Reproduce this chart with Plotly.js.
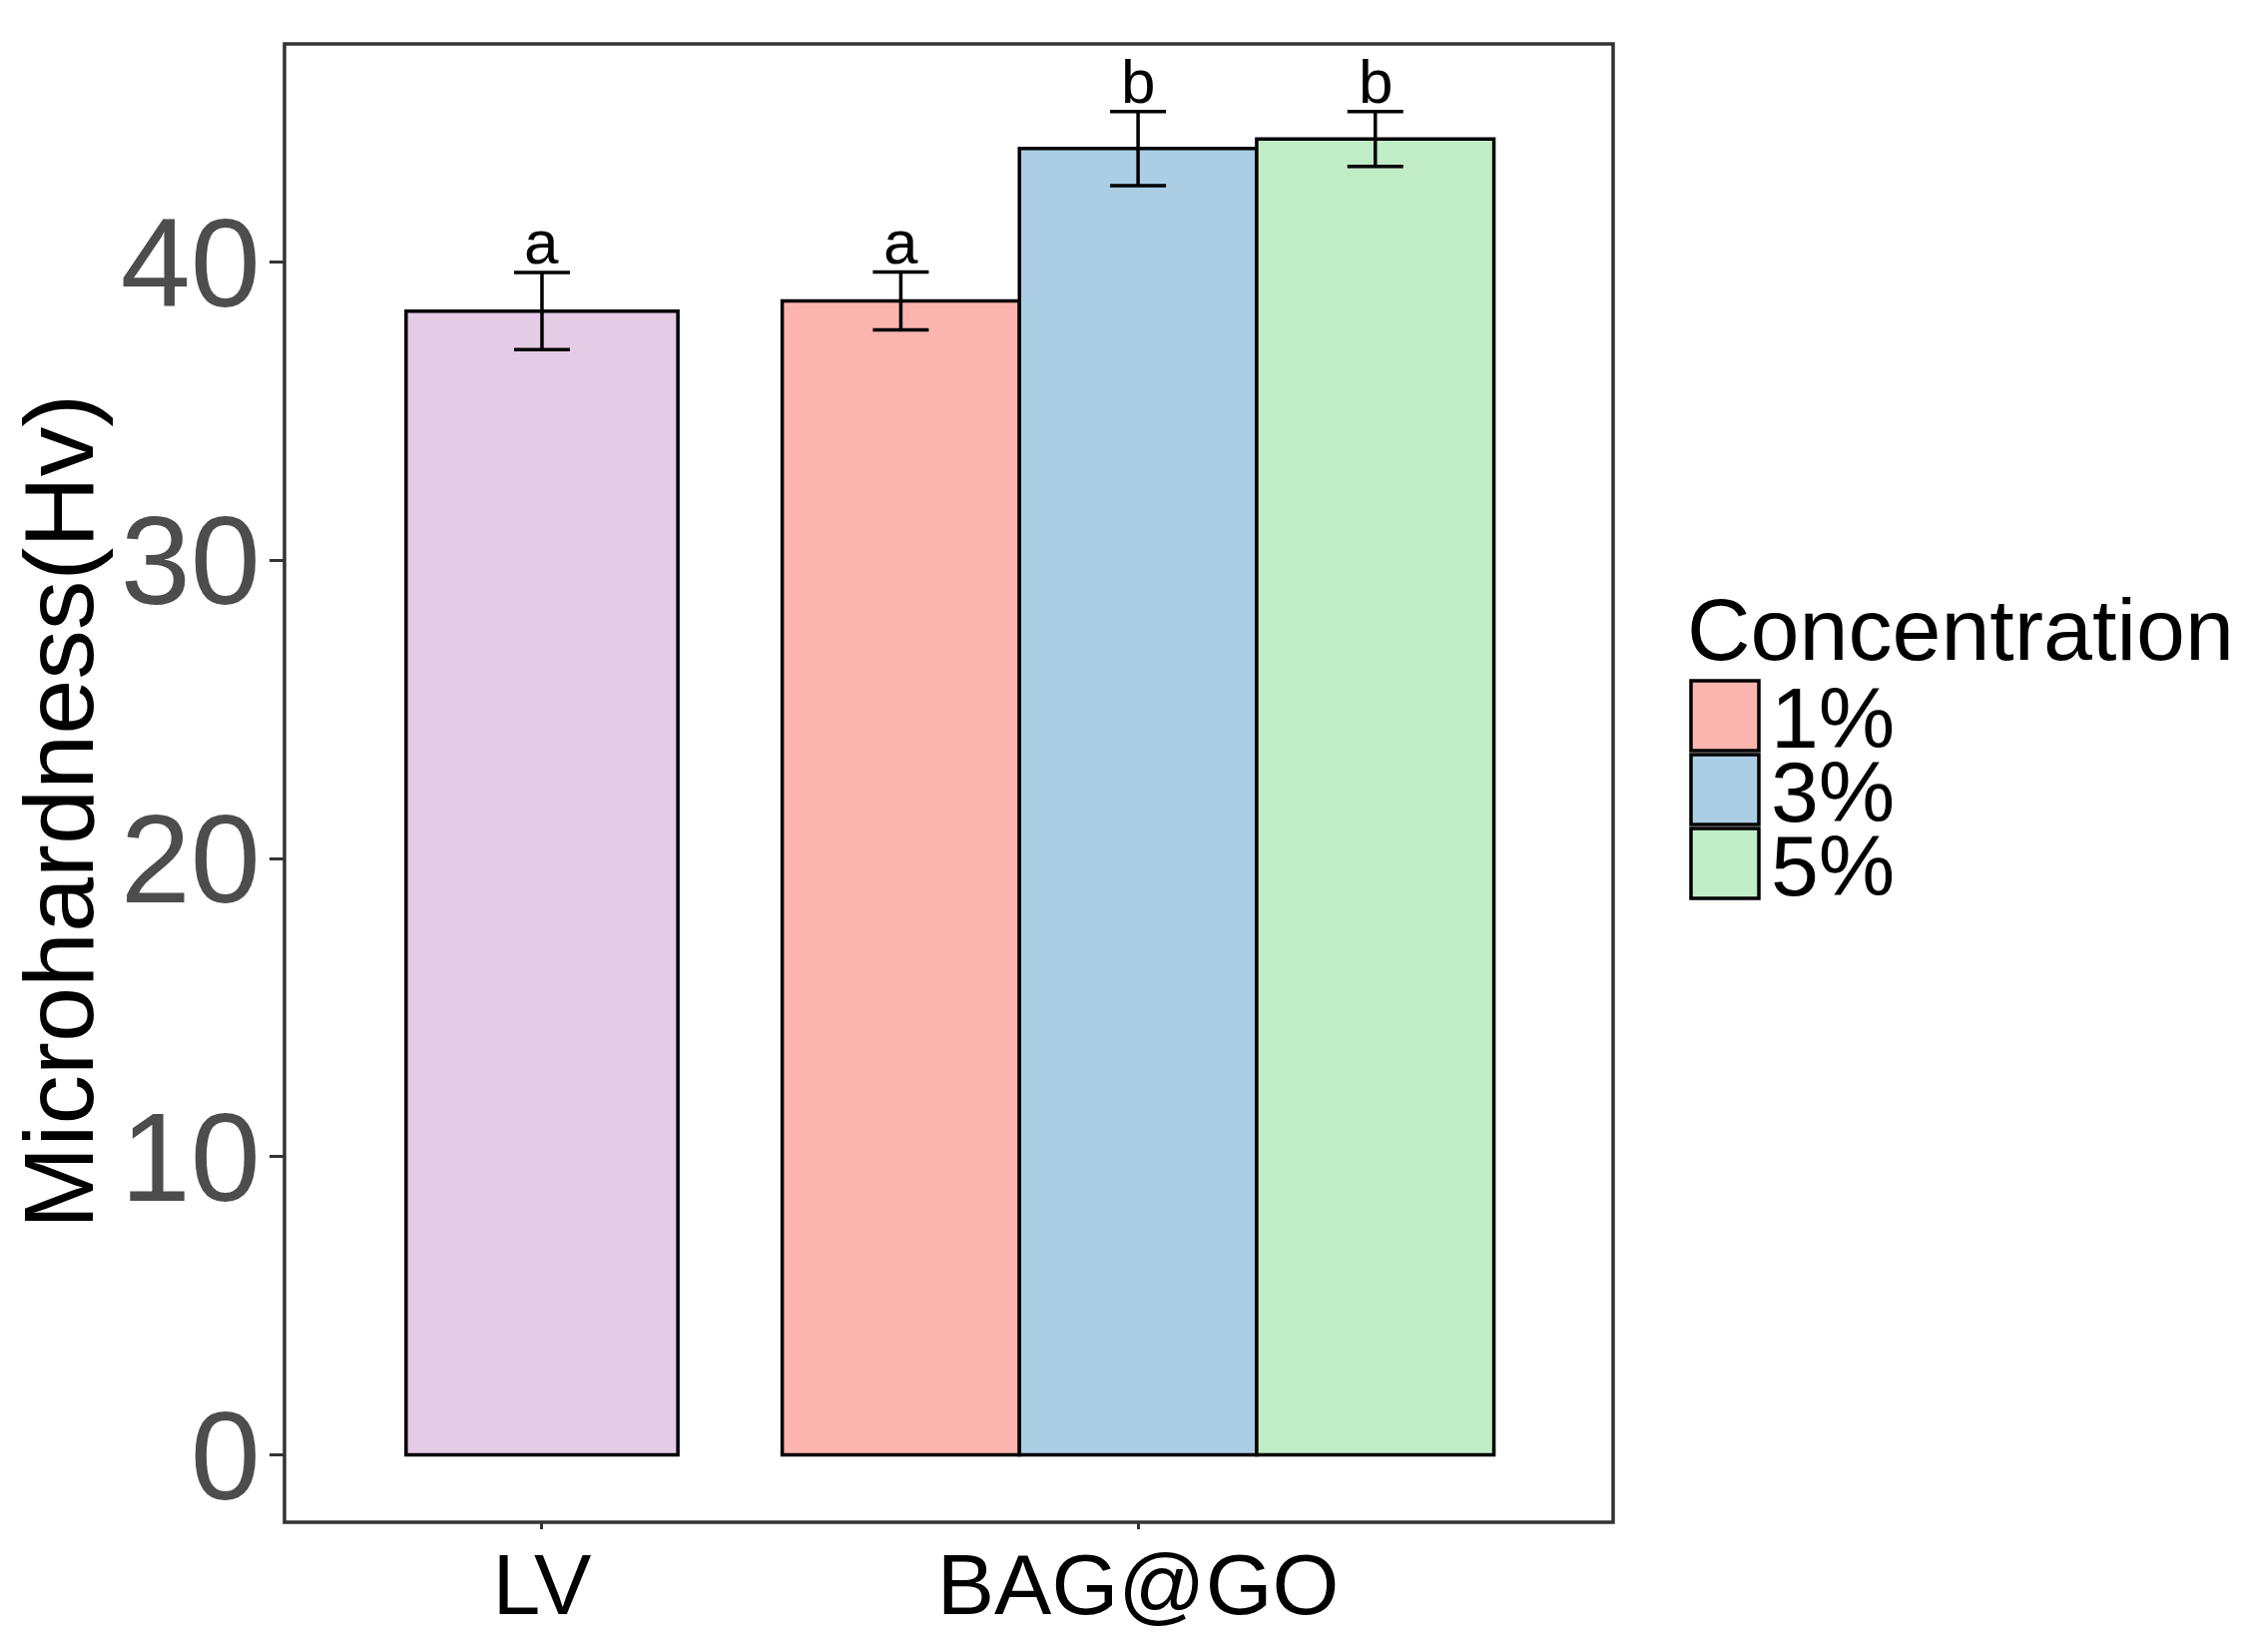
<!DOCTYPE html>
<html>
<head>
<meta charset="utf-8">
<script src="https://cdn.plot.ly/plotly-3.0.1.min.js"></script>
<style>html,body{margin:0;padding:0;background:#fff;}#chart{width:2248px;height:1655px;}</style>
</head>
<body>
<div id="chart"></div>
<script>
// ---- data ----
const groupLabels = ['LV', 'BAG@GO'];
const barGroup = ['LV', 'BAG@GO', 'BAG@GO', 'BAG@GO'];
const barConcentration = [null, '1%', '3%', '5%'];
const barMeans = [38.36, 38.70, 43.81, 44.13];
const barSD = [1.29, 0.97, 1.24, 0.92];
const barLetters = ['a', 'a', 'b', 'b'];
const legendTitle = 'Concentration';
const legendLabels = ['1%', '3%', '5%'];
const yTicks = [0, 10, 20, 30, 40];
const yTitle = 'Microhardness(Hv)';

// ---- style ----
const colors = {'LV': '#E5CCE6', '1%': '#FCB4AE', '3%': '#ABCEE5', '5%': '#C0ECC6'};
const FONT = 'Liberation Sans, Arial, Helvetica, sans-serif';
const W = 2248, H = 1655;
const M = {l: 285, r: W - 1616, t: 44, b: H - 1525};
const singleWidth = 0.456;
const dodgeWidth = 0.398;

const traces = [];
const annotations = [];
const xPos = [];
const widths = [];
barGroup.forEach((g, i) => {
  const gi = groupLabels.indexOf(g) + 1;
  const members = barGroup.map((gg, j) => gg === g ? j : -1).filter(j => j >= 0);
  const k = members.indexOf(i);
  const n = members.length;
  if (n === 1) { xPos.push(gi); widths.push(singleWidth); }
  else { xPos.push(gi + (k - (n - 1) / 2) * dodgeWidth); widths.push(dodgeWidth); }
});

barGroup.forEach((g, i) => {
  const key = barConcentration[i] || g;
  traces.push({
    type: 'bar',
    x: [xPos[i]],
    y: [barMeans[i]],
    width: [widths[i]],
    name: key,
    showlegend: false,
    marker: {color: colors[key], line: {color: '#000', width: 3.5}},
    error_y: {type: 'data', array: [barSD[i]], visible: true, color: '#000', thickness: 3.5, width: 28}
  });
  annotations.push({
    x: xPos[i], y: barMeans[i] + barSD[i], xref: 'x', yref: 'y',
    text: barLetters[i], showarrow: false, yanchor: 'bottom', yshift: -6,
    font: {family: FONT, size: 62, color: '#000'}
  });
});

// paper coords from pixels
const pw = W - M.l - M.r, ph = H - M.t - M.b;
const px = v => (v - M.l) / pw;
const py = v => (H - M.b - v) / ph;
const shapes = [];

// y-axis title
annotations.push({
  xref: 'paper', yref: 'paper', x: px(58), y: py(813), xanchor: 'center', yanchor: 'middle',
  text: yTitle, textangle: -90, showarrow: false, font: {family: FONT, size: 99, color: '#000'}
});

// manual legend
annotations.push({
  xref: 'paper', yref: 'paper', x: px(1688), y: py(630), xanchor: 'left', yanchor: 'middle',
  text: legendTitle, showarrow: false, font: {family: FONT, size: 88, color: '#000'}
});
legendLabels.forEach((lab, i) => {
  const top = 682 + i * 74;
  shapes.push({
    type: 'rect', xref: 'paper', yref: 'paper',
    x0: px(1694), x1: px(1762), y0: py(top + 70), y1: py(top),
    fillcolor: colors[lab], line: {color: '#000', width: 3.5}
  });
  annotations.push({
    xref: 'paper', yref: 'paper', x: px(1772), y: py(top + 37), xanchor: 'left', yanchor: 'middle',
    text: lab, showarrow: false, font: {family: FONT, size: 86, color: '#000'}
  });
});
// panel border
shapes.push({type: 'rect', xref: 'paper', yref: 'paper', x0: 0, x1: 1, y0: 0, y1: 1,
  line: {color: '#333333', width: 3.5}, fillcolor: 'rgba(0,0,0,0)', layer: 'above'});

const layout = {
  width: W, height: H,
  margin: M,
  paper_bgcolor: '#fff', plot_bgcolor: '#fff',
  showlegend: false,
  barmode: 'overlay',
  xaxis: {
    range: [0.568, 2.797], tickvals: [1, 2], ticktext: groupLabels,
    ticks: 'outside', ticklen: 6, tickwidth: 3, tickcolor: '#333333',
    showgrid: false, zeroline: false, showline: false,
    ticklabelstandoff: -18,
    tickfont: {family: FONT, size: 86, color: '#000'}
  },
  yaxis: {
    range: [-2.26, 47.32], tickvals: yTicks, ticktext: yTicks.map(String),
    ticks: 'outside', ticklen: 14, tickwidth: 3, tickcolor: '#333333',
    showgrid: false, zeroline: false, showline: false,
    ticklabelstandoff: -16,
    tickfont: {family: FONT, size: 126, color: '#4D4D4D'}
  },
  annotations: annotations,
  shapes: shapes
};

Plotly.newPlot('chart', traces, layout, {displayModeBar: false, staticPlot: true});
</script>
</body>
</html>
